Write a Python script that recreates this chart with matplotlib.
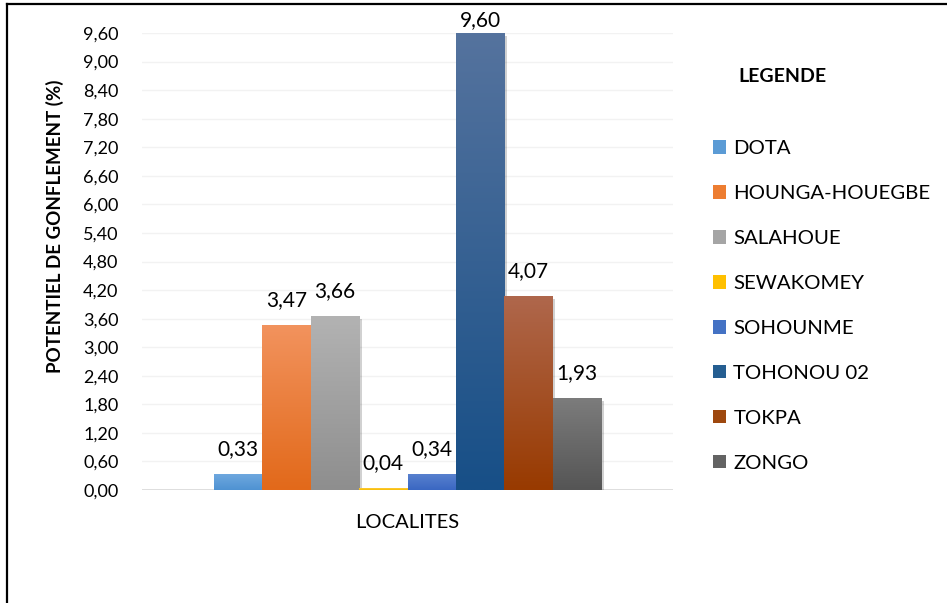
import matplotlib
matplotlib.use("Agg")
import matplotlib.pyplot as plt
import numpy as np
from matplotlib.patches import Patch
from matplotlib.lines import Line2D
import matplotlib.patheffects as pe
from matplotlib.colors import to_rgb

# ---- data ----
categories = ["LOCALITES"]
series_names = ["DOTA", "HOUNGA-HOUEGBE", "SALAHOUE", "SEWAKOMEY",
                "SOHOUNME", "TOHONOU 02", "TOKPA", "ZONGO"]
values = [0.33, 3.47, 3.66, 0.04, 0.34, 9.60, 4.07, 1.93]
top_colors = ["#6FA8DF", "#F2935E", "#B3B3B3", "#FFCB3A",
              "#5A82CF", "#55739E", "#AF674C", "#7C7C7C"]
bottom_colors = ["#4E92D2", "#E2691A", "#8E8E8E", "#F5BC00",
                 "#3A67C2", "#174F87", "#983A00", "#555555"]
legend_colors = ["#5B9BD5", "#ED7D31", "#A5A5A5", "#FFC000",
                 "#4472C4", "#255E91", "#9E480E", "#636363"]
yticks = [0.0, 0.6, 1.2, 1.8, 2.4, 3.0, 3.6, 4.2, 4.8, 5.4, 6.0, 6.6,
          7.2, 7.8, 8.4, 9.0, 9.6]

plt.rcParams['font.family'] = ['Lato', 'DejaVu Sans']

W, H = 947, 603
fig = plt.figure(figsize=(W / 100, H / 100), dpi=100)
ax = fig.add_axes([142 / W, (H - 490) / H, (673 - 142) / W, (490 - 33) / H])

n = len(values)
offsets = np.arange(n) - (n - 1) / 2
bars = ax.bar(offsets, values, width=1.0, color=legend_colors, zorder=3,
              linewidth=0)

for b, tc, bc in zip(bars, top_colors, bottom_colors):
    b.set_path_effects([pe.SimplePatchShadow(offset=(2, -2), shadow_rgbFace="#000000",
                                             alpha=0.18), pe.Normal()])
    t = np.array(to_rgb(tc))
    c = np.array(to_rgb(bc))
    frac = np.linspace(0, 1, 256)[:, None]
    grad = (t[None, :] * (1 - frac) + c[None, :] * frac)[:, None, :]
    x0, y0 = b.get_x(), b.get_y()
    w, h = b.get_width(), b.get_height()
    im = ax.imshow(grad, extent=[x0, x0 + w, y0, y0 + h], origin="upper",
                   aspect="auto", zorder=4, interpolation="bilinear")
    im.set_clip_path(b)

ax.set_xlim(-5.49, 5.49)
ax.set_ylim(0, 9.6)

# data labels: ~25 px above bar top, kept inside the chart area
for b, v in zip(bars, values):
    xd, yd = ax.transData.transform((b.get_x() + b.get_width() / 2, v))
    yl = min(yd + 25, H - 20)
    ax.text(xd, yl, f"{v:.2f}".replace(".", ","), transform=None,
            ha="center", va="center", fontsize=15, color="#000000", zorder=6)

ax.set_yticks(yticks)
ax.set_yticklabels([f"{t:.2f}".replace(".", ",") for t in yticks], fontsize=13)
ax.set_xticks([0])
ax.set_xticklabels(categories, fontsize=14.5)
ax.tick_params(axis="both", length=0)
ax.tick_params(axis="y", pad=17)
ax.tick_params(axis="x", pad=17)
for s in ax.spines.values():
    s.set_visible(False)
ax.grid(axis="y", color="#F2F2F2", linewidth=1, zorder=0)
ax.set_axisbelow(True)
ax.axhline(0, color="#D9D9D9", linewidth=1.2, zorder=2)

fig.text(55 / W, 1 - 226 / H, "POTENTIEL DE GONFLEMENT (%)", rotation=90,
         ha="center", va="center", fontsize=13.5, fontweight="bold")

# legend
fig.text(738 / W, 1 - 77 / H, "LEGENDE", ha="left", va="center",
         fontsize=14, fontweight="bold")
handles = [Patch(facecolor=c, edgecolor="none") for c in legend_colors]
fig.legend(handles, series_names, loc="upper left",
           bbox_to_anchor=(713 / W, 1 - 140 / H), frameon=False, fontsize=14.7,
           labelspacing=1.37, handlelength=0.65, handleheight=0.65,
           handletextpad=0.35, borderpad=0, borderaxespad=0)

# border
fig.add_artist(Line2D([7 / W, 7 / W], [0, 1 - 4 / H], transform=fig.transFigure,
                      color="black", linewidth=1.6))
fig.add_artist(Line2D([7 / W, 1], [1 - 4 / H, 1 - 4 / H], transform=fig.transFigure,
                      color="black", linewidth=1.6))

fig.savefig("out.png", dpi=100)
